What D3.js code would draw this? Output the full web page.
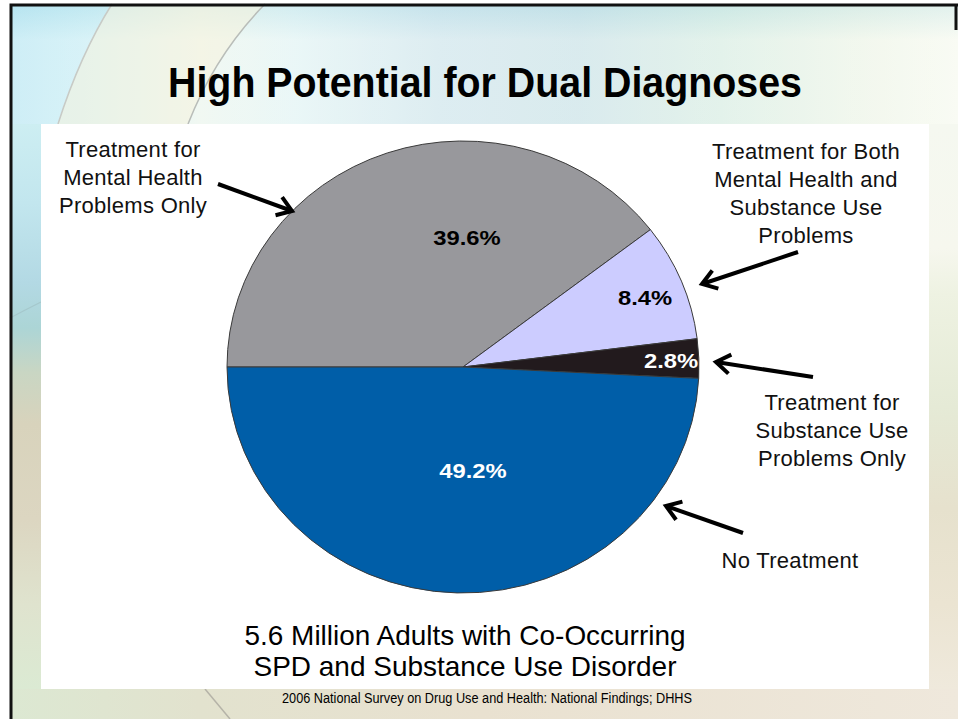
<!DOCTYPE html>
<html>
<head>
<meta charset="utf-8">
<script src="https://cdn.jsdelivr.net/npm/d3@7/dist/d3.min.js"></script>
<style>
  html, body { margin: 0; padding: 0; background: #ffffff; }
  svg { display: block; }
  text { font-family: "Liberation Sans", Arial, sans-serif; }
</style>
</head>
<body>
<svg id="chart" width="958" height="719"></svg>
<script>
// ---------- data ----------
const categories = [
  "Treatment for Mental Health Problems Only",
  "Treatment for Both Mental Health and Substance Use Problems",
  "Treatment for Substance Use Problems Only",
  "No Treatment"
];
const values = [39.6, 8.4, 2.8, 49.2];
const valueLabels = ["39.6%", "8.4%", "2.8%", "49.2%"];
const sliceColors = ["#98989c", "#ccccff", "#221a1d", "#005ea8"];
const labelColors = ["#000000", "#000000", "#ffffff", "#ffffff"];
const annotationLines = [
  ["Treatment for", "Mental Health", "Problems Only"],
  ["Treatment for Both", "Mental Health and", "Substance Use", "Problems"],
  ["Treatment for", "Substance Use", "Problems Only"],
  ["No Treatment"]
];
const titleText = "High Potential for Dual Diagnoses";
const subtitleLines = ["5.6 Million Adults with Co-Occurring", "SPD and Substance Use Disorder"];
const sourceText = "2006 National Survey on Drug Use and Health: National Findings; DHHS";

// ---------- layout ----------
const W = 958, H = 719;
const cx = 463, cy = 367, rx = 236, ry = 226;
// label anchors relative to pie centre (baseline)
const labelOffsets = [[4, -122], [182, -62], [208, 1], [10, 111]];
// annotation text blocks: centre x, first baseline
const annotationPos = [[133, 157], [806, 159], [832, 410], [790, 568]];
// arrows: tail -> tip
const arrows = [
  [[218, 184], [292, 211]],
  [[798, 252], [702, 284]],
  [[813, 377], [716, 362]],
  [[743, 533], [666, 506]]
];

const svg = d3.select("#chart");
const defs = svg.append("defs");

function linGrad(id, x1, y1, x2, y2, stops) {
  const g = defs.append("linearGradient").attr("id", id)
    .attr("gradientUnits", "userSpaceOnUse")
    .attr("x1", x1).attr("y1", y1).attr("x2", x2).attr("y2", y2);
  stops.forEach(s => g.append("stop").attr("offset", s[0]).attr("stop-color", s[1]));
}

// ---------- slide background ----------
linGrad("topBand", 10, 0, 958, 0, [
  [0, "#bde8f3"], [0.09, "#cdeff5"], [0.2, "#ecf6ee"], [0.3, "#e3f4f4"],
  [0.45, "#d2e7ed"], [0.6, "#cde4e8"], [0.75, "#daeee4"], [0.9, "#eef5e8"], [1, "#f7faf0"]
]);
linGrad("topShade", 0, 4, 0, 124, [
  [0, "#9fd6e6"], [0.3, "#ffffff"], [1, "#ffffff"]
]);
linGrad("leftStrip", 0, 124, 0, 689, [
  [0, "#cdeef2"], [0.14, "#c2e6ee"], [0.28, "#b3d9e4"], [0.36, "#acd5d6"],
  [0.44, "#c9d6c3"], [0.53, "#d8d3bc"], [0.7, "#dcd6c1"], [0.85, "#dfe3ce"], [1, "#dbead3"]
]);
linGrad("rightStrip", 0, 124, 0, 689, [
  [0, "#f5f8f0"], [0.22, "#f6f7ee"], [0.3, "#eef2e2"], [0.5, "#e5ead6"],
  [0.68, "#e6e1cd"], [0.85, "#ebe4d2"], [1, "#efe9dc"]
]);
linGrad("bottomBand", 10, 0, 958, 0, [
  [0, "#dce8d2"], [0.2, "#e2e2ce"], [0.5, "#e9e1d0"], [1, "#efe8dc"]
]);

const bg = svg.append("g");
bg.append("rect").attr("x", 10).attr("y", 4).attr("width", W - 10).attr("height", 120).attr("fill", "url(#topBand)");
bg.append("rect").attr("x", 10).attr("y", 4).attr("width", W - 10).attr("height", 120).attr("fill", "url(#topShade)").attr("opacity", 0.25);
bg.append("rect").attr("x", 10).attr("y", 124).attr("width", 31).attr("height", 565).attr("fill", "url(#leftStrip)");
bg.append("rect").attr("x", 929).attr("y", 124).attr("width", 29).attr("height", 565).attr("fill", "url(#rightStrip)");
bg.append("rect").attr("x", 10).attr("y", 689).attr("width", W - 10).attr("height", 30).attr("fill", "url(#bottomBand)");

// decorative swooshes
bg.append("path").attr("d", "M265,4 Q215,55 188,124 L58,124 Q80,55 112,4 Z")
  .attr("fill", "#f5f2dc").attr("opacity", 0.55);
bg.append("path").attr("d", "M112,4 Q80,55 58,124").attr("fill", "none").attr("stroke", "#c8cbc6").attr("stroke-width", 1.5);
bg.append("path").attr("d", "M265,4 Q215,55 188,124").attr("fill", "none").attr("stroke", "#b9bdb9").attr("stroke-width", 1.5);
bg.append("path").attr("d", "M205,689 L230,719").attr("fill", "none").attr("stroke", "#b5b3a8").attr("stroke-width", 1.5);
bg.append("path").attr("d", "M10,318 Q25,310 41,302").attr("fill", "none").attr("stroke", "#a5c8cc").attr("stroke-width", 1.2);

// slide frame
svg.append("path").attr("d", `M11,${H} L11,5 L${W},5`).attr("fill", "none").attr("stroke", "#111").attr("stroke-width", 3);
svg.append("line").attr("x1", W - 2).attr("y1", 4).attr("x2", W - 2).attr("y2", 30).attr("stroke", "#111").attr("stroke-width", 3);

// white chart panel
svg.append("rect").attr("x", 41).attr("y", 124).attr("width", 888).attr("height", 565).attr("fill", "#ffffff");

// ---------- title ----------
svg.append("text").attr("x", 485).attr("y", 97).attr("text-anchor", "middle")
  .attr("font-size", 42).attr("font-weight", "bold").attr("fill", "#000")
  .attr("textLength", 634).attr("lengthAdjust", "spacingAndGlyphs")
  .text(titleText);

// ---------- pie ----------
const pie = d3.pie().sort(null).value(d => d).startAngle(-Math.PI / 2).endAngle(1.5 * Math.PI);
const arc = d3.arc().innerRadius(0).outerRadius(rx);
const arcs = pie(values);

const pieG = svg.append("g").attr("transform", `translate(${cx},${cy}) scale(1,${ry / rx})`);
pieG.selectAll("path.slice").data(arcs).enter().append("path")
  .attr("class", "slice")
  .attr("d", arc)
  .attr("fill", (d, i) => sliceColors[i])
  .attr("stroke", "#3a3a3a")
  .attr("stroke-width", 1)
  .attr("vector-effect", "non-scaling-stroke");

// value labels
const lblG = svg.append("g").attr("transform", `translate(${cx},${cy})`);
lblG.selectAll("text.val").data(arcs).enter().append("text")
  .attr("class", "val")
  .attr("transform", (d, i) => `translate(${labelOffsets[i][0]},${labelOffsets[i][1]}) scale(1.22,1)`)
  .attr("text-anchor", "middle")
  .attr("font-size", 19.5).attr("font-weight", "bold")
  .attr("fill", (d, i) => labelColors[i])
  .text((d, i) => valueLabels[i]);

// ---------- annotations ----------
const annG = svg.append("g");
annotationLines.forEach((lines, i) => {
  const t = annG.append("text").attr("text-anchor", "middle")
    .attr("font-size", 22).attr("fill", "#111").attr("letter-spacing", 0.3);
  lines.forEach((ln, j) => {
    t.append("tspan").attr("x", annotationPos[i][0]).attr("y", annotationPos[i][1] + j * 28).text(ln);
  });
});

// arrows
arrows.forEach(([tail, tip]) => {
  const ang = Math.atan2(tip[1] - tail[1], tip[0] - tail[0]);
  const len = 17, spread = 0.6;
  const a1 = [tip[0] - len * Math.cos(ang - spread), tip[1] - len * Math.sin(ang - spread)];
  const a2 = [tip[0] - len * Math.cos(ang + spread), tip[1] - len * Math.sin(ang + spread)];
  const line = d3.line();
  annG.append("path").attr("d", line([tail, tip]))
    .attr("stroke", "#000").attr("stroke-width", 4).attr("fill", "none");
  annG.append("path").attr("d", line([a1, tip, a2]))
    .attr("stroke", "#000").attr("stroke-width", 4).attr("fill", "none")
    .attr("stroke-linejoin", "miter").attr("stroke-linecap", "butt");
});

// ---------- subtitle & source ----------
const subLens = [441, 423];
const subBase = [645, 676];
subtitleLines.forEach((ln, i) => {
  svg.append("text").attr("x", 465).attr("y", subBase[i]).attr("text-anchor", "middle")
    .attr("font-size", 28).attr("fill", "#000")
    .attr("textLength", subLens[i]).attr("lengthAdjust", "spacingAndGlyphs")
    .text(ln);
});
svg.append("text").attr("x", 487).attr("y", 703).attr("text-anchor", "middle")
  .attr("font-size", 14).attr("fill", "#000")
  .attr("textLength", 410).attr("lengthAdjust", "spacingAndGlyphs")
  .text(sourceText);
</script>
</body>
</html>
